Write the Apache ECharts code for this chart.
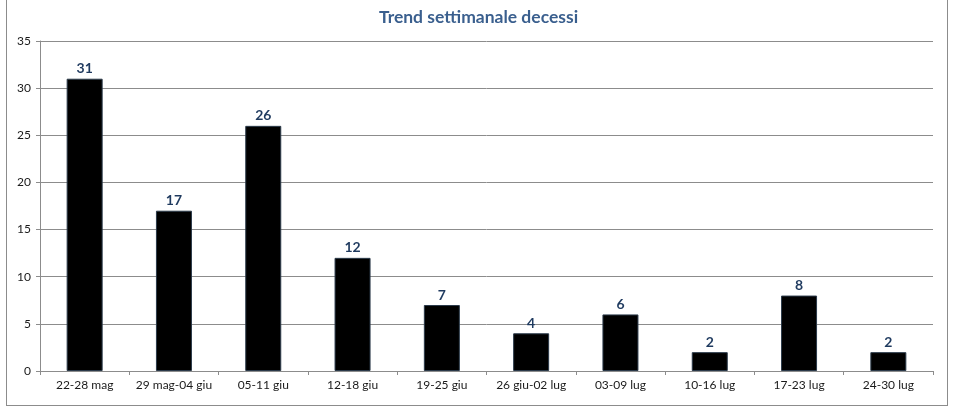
<!DOCTYPE html>
<html><head><meta charset="utf-8">
<script src="https://cdn.jsdelivr.net/npm/echarts@6/dist/echarts.min.js"></script>
<style>html,body{margin:0;padding:0;background:#fff}#c{width:957px;height:410px}
#frame{position:absolute;left:6px;top:-2px;width:942px;height:408px;border:1px solid #8c8c8c;border-top:none;box-sizing:border-box;pointer-events:none}</style>
</head><body><div id="c"></div><div id="frame"></div>
<script>
const categories = ["22-28 mag","29 mag-04 giu","05-11 giu","12-18 giu","19-25 giu","26 giu-02 lug","03-09 lug","10-16 lug","17-23 lug","24-30 lug"];
const deaths = [31,17,26,12,7,4,6,2,8,2];
const chart = echarts.init(document.getElementById('c'));
chart.setOption({
  animation:false,
  title:{text:'Trend settimanale decessi',left:'center',top:3,textStyle:{fontFamily:'Lato',fontWeight:'bold',fontSize:17.5,color:'#3a5f8e'}},
  grid:{left:40,right:24,top:41,bottom:39,containLabel:false},
  xAxis:{type:'category',data:categories,
    axisLine:{lineStyle:{color:'#8c8c8c'}},
    axisTick:{show:true,length:4,lineStyle:{color:'#8c8c8c'}},
    axisLabel:{interval:0,color:'#1a1a1a',fontFamily:'Lato',fontSize:12,margin:8}},
  yAxis:{type:'value',min:0,max:35,interval:5,
    axisLine:{show:true,lineStyle:{color:'#8c8c8c'}},
    axisTick:{show:true,length:4,lineStyle:{color:'#8c8c8c'}},
    splitLine:{lineStyle:{color:'#8c8c8c'}},
    axisLabel:{color:'#1a1a1a',fontFamily:'Lato',fontSize:12,margin:9}},
  series:[{type:'bar',data:deaths,barWidth:36,
    itemStyle:{color:'#000',borderColor:'#2b3a4a',borderWidth:1},
    label:{show:true,position:'top',distance:3,fontFamily:'Lato',fontWeight:'bold',fontSize:14,color:'#1f3a5f'}}]
});
</script></body></html>
